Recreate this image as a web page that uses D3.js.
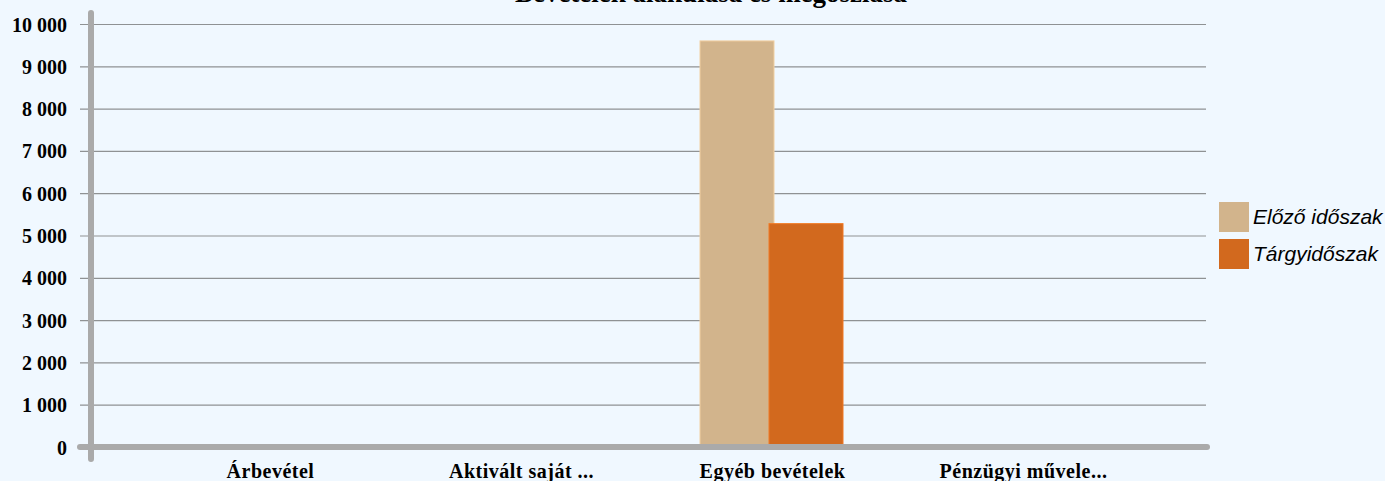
<!DOCTYPE html>
<html>
<head>
<meta charset="utf-8">
<script src="https://cdn.jsdelivr.net/npm/d3@7"></script>
<style>
  html, body { margin: 0; padding: 0; background: #F0F8FF; }
  .tick-label { font-family: "Liberation Serif", "Times New Roman", serif; font-weight: bold; font-size: 20px; fill: #000; }
  .legend-label { font-family: "Liberation Sans", Arial, sans-serif; font-style: italic; font-size: 21px; fill: #000; }
</style>
</head>
<body>
<div id="root"></div>
<script>
// chart data
var categories = ["Árbevétel", "Aktivált saját ...", "Egyéb bevételek", "Pénzügyi művele..."];
var seriesNames = ["Előző időszak", "Tárgyidőszak"];
var previousValues = [0, 0, 9600, 0];
var currentValues = [0, 0, 5280, 0];
var yTicks = [0, 1000, 2000, 3000, 4000, 5000, 6000, 7000, 8000, 9000, 10000];
var colors = ["#D2B48C", "#D2691E"];

var width = 1385, height = 481;

var svg = d3.select("#root").append("svg")
    .attr("width", width)
    .attr("height", height)
    .style("display", "block");

svg.append("rect")
    .attr("width", width)
    .attr("height", height)
    .attr("fill", "#F0F8FF");

// scales
var x = d3.scaleBand()
    .domain(categories)
    .range([145, 1149]);
var y = d3.scaleLinear()
    .domain([0, 10000])
    .range([447, 24]);

var fmt = function(d) { return d3.format(",")(d).replace(/,/g, " "); };

// gridlines
svg.append("g").selectAll("line")
    .data(yTicks.filter(function(d) { return d > 0; }))
    .enter().append("line")
    .attr("x1", 80).attr("x2", 1206)
    .attr("y1", function(d) { return y(d) + 0.5; })
    .attr("y2", function(d) { return y(d) + 0.5; })
    .attr("stroke", "#8f9294")
    .attr("stroke-width", 1.2);

// y tick labels
svg.append("g").selectAll("text")
    .data(yTicks)
    .enter().append("text")
    .attr("class", "tick-label")
    .attr("x", 67)
    .attr("y", function(d) { return y(d) + 7.5; })
    .attr("text-anchor", "end")
    .text(fmt);

// bars
var series = [previousValues, currentValues];
var barW = 74, overlap = 5;
series.forEach(function(vals, s) {
  svg.append("g").selectAll("rect")
    .data(categories)
    .enter().append("rect")
    .attr("x", function(d) {
      var c = x(d) + x.bandwidth() / 2;
      return s === 0 ? c - barW + overlap / 2 - 1 : c - overlap / 2 - 1;
    })
    .attr("width", barW)
    .attr("y", function(d, i) { return y(vals[i]); })
    .attr("height", function(d, i) { return y(0) - y(vals[i]); })
    .attr("fill", colors[s])
    .attr("stroke", d3.color(colors[s]).brighter(0.4))
    .attr("stroke-width", 1)
    .style("display", function(d, i) { return vals[i] > 0 ? null : "none"; });
});

// axes lines
svg.append("line")
    .attr("x1", 80).attr("x2", 1207)
    .attr("y1", 447).attr("y2", 447)
    .attr("stroke", "#aaaaaa").attr("stroke-width", 6)
    .attr("stroke-linecap", "round");
svg.append("line")
    .attr("x1", 91).attr("x2", 91)
    .attr("y1", 13).attr("y2", 459)
    .attr("stroke", "#aaaaaa").attr("stroke-width", 6)
    .attr("stroke-linecap", "round");

// x labels
svg.append("g").selectAll("text")
    .data(categories)
    .enter().append("text")
    .attr("class", "tick-label")
    .attr("x", function(d) { return x(d) + x.bandwidth() / 2; })
    .attr("y", 478)
    .attr("text-anchor", "middle")
    .style("letter-spacing", "0.5px")
    .text(function(d) { return d; });

// title (cut off at the top, as in the original)
svg.append("text")
    .attr("x", 711)
    .attr("y", 2)
    .attr("text-anchor", "middle")
    .style("font-family", "'Liberation Serif', 'Times New Roman', serif")
    .style("font-weight", "bold")
    .style("font-size", "27px")
    .text("Bevételek alakulása és megoszlása");

// legend
var legend = svg.append("g").selectAll("g")
    .data(seriesNames)
    .enter().append("g")
    .attr("transform", function(d, i) { return "translate(1219," + (202 + i * 37) + ")"; });
legend.append("rect")
    .attr("width", 30).attr("height", 30)
    .attr("fill", function(d, i) { return colors[i]; });
legend.append("text")
    .attr("class", "legend-label")
    .attr("x", 34)
    .attr("y", 22)
    .text(function(d) { return d; });
</script>
</body>
</html>
